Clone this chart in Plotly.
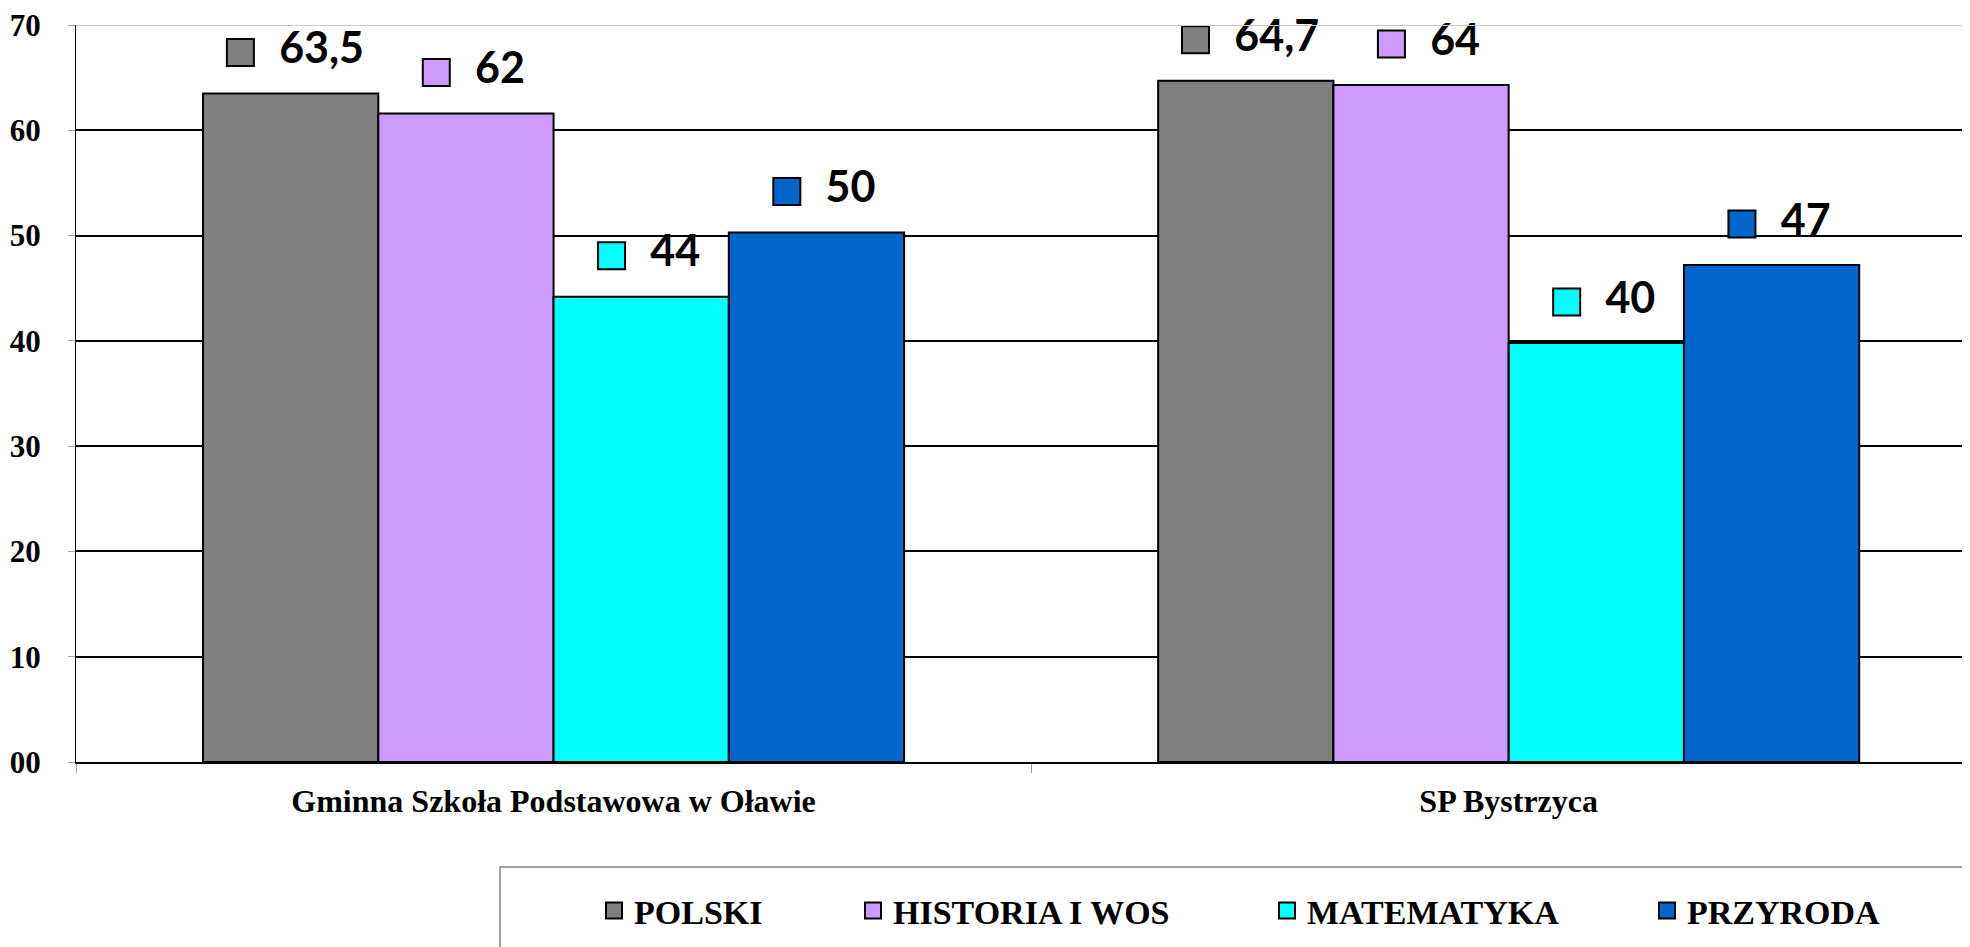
import plotly.graph_objects as go

# ── dane ──
schools = ["Gminna Szkoła Podstawowa w Oławie", "SP Bystrzyca"]
subjects = ["POLSKI", "HISTORIA I WOS", "MATEMATYKA", "PRZYRODA"]
colors = ["#808080", "#CC99FF", "#00FFFF", "#0066CC"]

polski = [63.5, 64.7]
historia = [61.6, 64.3]
matematyka = [44.2, 39.8]
przyroda = [50.3, 47.2]

polski_lbl = ["63,5", "64,7"]
historia_lbl = ["62", "64"]
matematyka_lbl = ["44", "40"]
przyroda_lbl = ["50", "47"]

y_ticks = [0, 10, 20, 30, 40, 50, 60, 70]
y_ticktext = ["00", "10", "20", "30", "40", "50", "60", "70"]

series = [polski, historia, matematyka, przyroda]
labels = [polski_lbl, historia_lbl, matematyka_lbl, przyroda_lbl]

# strona ma domyślny margines body = 8 px, stąd rozmiar mniejszy o 8
W, H = 1962, 939
M_L, M_R, M_T, M_B = 68, 0, 17, 185
PAGE_OFF = 8
X_RANGE = [-0.5, 1.483]
BARGAP = 0.266
n = len(subjects)
bar_w = (1 - BARGAP) / n
plot_w = W - M_L - M_R
px_per_unit_x = plot_w / (X_RANGE[1] - X_RANGE[0])
px_per_unit_y = (H - M_T - M_B) / 70
LBL_FONT = 43
LBL_LIFT = 41  # px nad słupkiem
KEY = 27

serif = "Liberation Serif"

fig = go.Figure()
xs = list(range(len(schools)))

for i, (name, vals, col) in enumerate(zip(subjects, series, colors)):
    fig.add_trace(go.Bar(
        x=xs, y=vals, name=name, showlegend=False,
        marker=dict(color=col, line=dict(color="black", width=2)),
        hoverinfo="skip",
    ))

# etykiety danych z kluczem legendy
for i, (vals, lbls, col) in enumerate(zip(series, labels, colors)):
    centers = [x + (i - (n - 1) / 2) * bar_w for x in xs]
    lx, ly = [], []
    for c, v, t in zip(centers, vals, lbls):
        text_w = len(t) * 0.48 * LBL_FONT
        total = KEY + 18 + text_w
        off_px = -total / 2 + KEY / 2
        lx.append(c + off_px / px_per_unit_x)
        ly.append(v + LBL_LIFT / px_per_unit_y)
    fig.add_trace(go.Scatter(
        x=lx, y=ly, mode="markers+text",
        text=["  " + t for t in lbls], textposition="middle right",
        textfont=dict(family="Lato", size=LBL_FONT, color="black", weight="bold"),
        marker=dict(symbol="square", size=KEY, color=col,
                    line=dict(color="black", width=2)),
        showlegend=False, hoverinfo="skip", cliponaxis=False,
    ))

# legenda – każdy wpis w osobnej legendzie, żeby odtworzyć rozstaw
legend_key_left = [605, 864, 1278, 1658]  # lewa krawędź klucza na stronie
legend_font = dict(family=serif, size=34, color="black", weight="bold")
legend_layouts = {}
for i, (name, col, kx) in enumerate(zip(subjects, colors, legend_key_left)):
    lname = "legend" if i == 0 else f"legend{i + 1}"
    fig.add_trace(go.Scatter(
        x=[None], y=[None], mode="markers", name=name, legend=lname,
        marker=dict(symbol="square", size=16, color=col,
                    line=dict(color="black", width=2)),
        hoverinfo="skip",
    ))
    legend_layouts[lname] = dict(
        orientation="h", x=(kx - 11 - M_L - PAGE_OFF) / plot_w, xanchor="left",
        y=-0.202, yanchor="middle", font=legend_font,
        bgcolor="rgba(0,0,0,0)", itemwidth=30,
    )

fig.update_layout(
    width=W, height=H,
    margin=dict(l=M_L, r=M_R, t=M_T, b=M_B, autoexpand=False),
    paper_bgcolor="white", plot_bgcolor="white",
    barmode="group", bargap=BARGAP, bargroupgap=0,
    xaxis=dict(
        range=X_RANGE, tickvals=xs, ticktext=schools,
        ticks="", showgrid=False, zeroline=False, automargin=False,
        showline=True, linecolor="black", linewidth=2,
        tickfont=dict(family=serif, size=32, color="black", weight="bold"),
        ticklabelstandoff=10,
        minor=dict(tickvals=[-0.5, 0.5, 1.5], ticks="outside", ticklen=9,
                   tickcolor="#A0A0A0", tickwidth=1, showgrid=False),
    ),
    yaxis=dict(
        range=[0, 70], tickvals=y_ticks, ticktext=y_ticktext,
        showgrid=True, gridcolor="black", gridwidth=2, automargin=False,
        zeroline=False, showline=True, linecolor="black", linewidth=1,
        ticks="outside", ticklen=7, tickcolor="#A0A0A0",
        tickfont=dict(family=serif, size=31, color="black", weight="bold"),
        ticklabelstandoff=21, ticklabeloverflow="allow",
    ),
    shapes=[
        dict(type="line", xref="paper", yref="y", x0=0, x1=1, y0=70, y1=70,
             line=dict(color="#C8C8C8", width=2), layer="above"),
        dict(type="rect", xref="paper", yref="paper",
             x0=(500 - M_L - PAGE_OFF) / plot_w, x1=1.05,
             y0=-0.1425, y1=-0.4, line=dict(color="#A0A0A0", width=2),
             layer="below"),
    ],
    **legend_layouts,
)

fig.write_html("out.html")
